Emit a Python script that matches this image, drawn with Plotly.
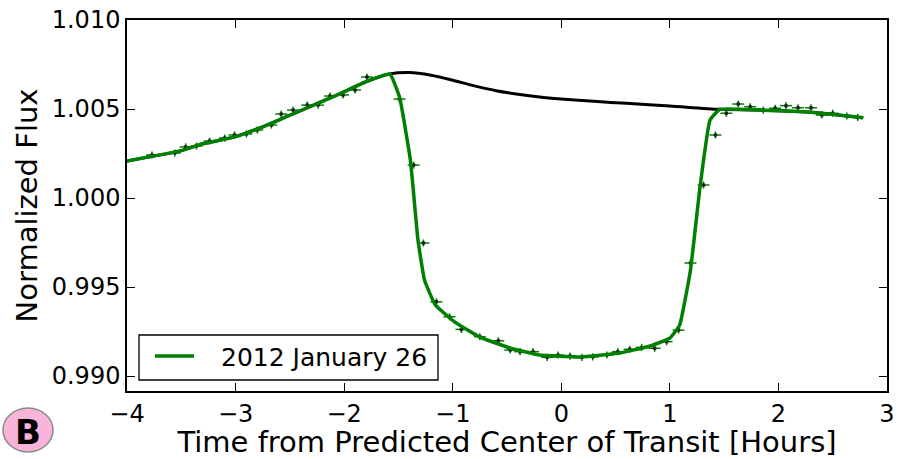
import plotly.graph_objects as go

# Transit model (green) and out-of-transit baseline (black)
model_t = [-4.0, -3.5, -3.33, -3.0, -2.71, -2.5, -2.1, -1.8, -1.58, -1.49, -1.39, -1.32,
           -1.26, -1.16, -0.98, -0.75, -0.47, -0.2, 0.17, 0.54, 0.82, 1.0, 1.09, 1.19,
           1.28, 1.37, 1.46, 1.83, 2.3, 2.78]
model_flux = [1.00208, 1.00266, 1.00300, 1.00345, 1.00410, 1.00465, 1.00569, 1.00653,
              1.00697, 1.00567, 1.00213, 0.99764, 0.99539, 0.99399, 0.99303, 0.99219,
              0.99157, 0.99118, 0.99107, 0.99129, 0.99169, 0.99213, 0.99286, 0.99596,
              1.00073, 1.00438, 1.00498, 1.00494, 1.00482, 1.00451]

base_t = [-4.0, -3.5, -3.33, -3.0, -2.71, -2.5, -2.1, -1.8, -1.58, -1.4, -1.2, -1.0,
          -0.8, -0.6, -0.4, -0.2, 0.0, 0.3, 0.6, 1.0, 1.46, 1.83, 2.3, 2.78]
base_flux = [1.00208, 1.00266, 1.00300, 1.00345, 1.00410, 1.00465, 1.00569, 1.00653,
             1.00697, 1.00705, 1.00690, 1.00662, 1.00630, 1.00603, 1.00583, 1.00567,
             1.00556, 1.00543, 1.00532, 1.00517, 1.00498, 1.00494, 1.00482, 1.00451]

# Binned photometry
obs_t = [-3.77, -3.56, -3.46, -3.36, -3.24, -3.10, -3.01, -2.90, -2.80, -2.67, -2.58,
         -2.47, -2.34, -2.24, -2.13, -2.01, -1.90, -1.79, -1.49, -1.36, -1.27, -1.15,
         -1.03, -0.92, -0.75, -0.58, -0.47, -0.38, -0.26, -0.13, -0.03, 0.08, 0.19,
         0.29, 0.42, 0.52, 0.63, 0.74, 0.86, 0.97, 1.08, 1.19, 1.31, 1.42, 1.52, 1.63,
         1.74, 1.86, 1.97, 2.07, 2.18, 2.30, 2.40, 2.50, 2.63, 2.73]
obs_flux = [1.00242, 1.00253, 1.00287, 1.00292, 1.00320, 1.00337, 1.00354, 1.00360,
            1.00382, 1.00410, 1.00472, 1.00494, 1.00522, 1.00522, 1.00573, 1.00579,
            1.00607, 1.00680, 1.00556, 1.00185, 0.99747, 0.99417, 0.99333, 0.99262,
            0.99221, 0.99198, 0.99146, 0.99137, 0.99137, 0.99105, 0.99118, 0.99112,
            0.99105, 0.99108, 0.99118, 0.99137, 0.99150, 0.99161, 0.99156, 0.99193,
            0.99258, 0.99635, 1.00073, 1.00354, 1.00476, 1.00528, 1.00513, 1.00494,
            1.00504, 1.00519, 1.00507, 1.00507, 1.00466, 1.00476, 1.00461, 1.00453]
bin_half_width = 0.055
flux_err = 0.0002

x_ticks = [-4, -3, -2, -1, 0, 1, 2, 3]
x_tick_text = ["\u22124", "\u22123", "\u22122", "\u22121", "0", "1", "2", "3"]
y_ticks = [0.990, 0.995, 1.000, 1.005, 1.010]
y_tick_text = ["0.990", "0.995", "1.000", "1.005", "1.010"]

series_label = "2012 January 26"

GREEN = "#008000"
FONT = "DejaVu Sans"

fig = go.Figure()

fig.add_trace(go.Scatter(
    x=obs_t, y=obs_flux, mode="markers",
    marker=dict(color="#222222", size=4),
    error_x=dict(type="constant", value=bin_half_width, color=GREEN, thickness=1.5, width=0),
    error_y=dict(type="constant", value=flux_err, color=GREEN, thickness=1.5, width=0),
    showlegend=False, hoverinfo="skip",
))
fig.add_trace(go.Scatter(
    x=base_t, y=base_flux, mode="lines",
    line=dict(color="black", width=3, shape="spline", smoothing=0.8),
    showlegend=False,
))
fig.add_trace(go.Scatter(
    x=model_t, y=model_flux, mode="lines", name=series_label,
    line=dict(color=GREEN, width=3.5, shape="spline", smoothing=0.35),
    showlegend=False,
))

L, R, T, B = 127, 18, 20, 68
W, H = 905, 459
pw, ph = W - L - R, H - T - B

def px(x):
    return (x - L) / pw

def py(y):
    return (H - B - y) / ph

# legend box drawn in paper space
lx0, lx1, ly0, ly1 = 139, 438, 335, 380
fig.add_shape(type="rect", xref="paper", yref="paper",
              x0=px(lx0), x1=px(lx1), y0=py(ly1), y1=py(ly0),
              fillcolor="white", line=dict(color="black", width=1.3), layer="above")
fig.add_shape(type="line", xref="paper", yref="paper",
              x0=px(155), x1=px(194), y0=py(356), y1=py(356),
              line=dict(color=GREEN, width=3.5), layer="above")
fig.add_annotation(x=px(219), y=py(357), xref="paper", yref="paper", text=series_label,
                   showarrow=False, xanchor="left", yanchor="middle",
                   font=dict(family=FONT, size=25, color="black"))

# circled panel letter
cx, cy, rx, ry = 28, 430, 25, 22
fig.add_shape(type="circle", xref="paper", yref="paper",
              x0=px(cx - rx), x1=px(cx + rx), y0=py(cy + ry), y1=py(cy - ry),
              fillcolor="#f8b4d9", line=dict(color="#8a8a8a", width=1.5))
fig.add_annotation(x=px(cx), y=py(cy + 2), xref="paper", yref="paper", text="<b>B</b>",
                   showarrow=False, font=dict(family=FONT, size=34, color="black"),
                   xanchor="center", yanchor="middle")

axis_common = dict(
    showline=True, linecolor="black", linewidth=1.5, mirror="ticks",
    ticks="inside", ticklen=8, tickwidth=1.2, tickcolor="black",
    showgrid=False, zeroline=False, automargin=False,
    tickfont=dict(family=FONT, size=24, color="black"),
)

fig.update_layout(
    width=W, height=H,
    margin=dict(l=L, r=R, t=T, b=B),
    paper_bgcolor="white", plot_bgcolor="white",
    xaxis=dict(range=[-4, 3], tickvals=x_ticks, ticktext=x_tick_text,
               title=dict(text="Time from Predicted Center of Transit [Hours]",
                          font=dict(family=FONT, size=29, color="black"), standoff=2),
               **axis_common),
    yaxis=dict(range=[0.98916, 1.010], tickvals=y_ticks, ticktext=y_tick_text,
               title=dict(text="Normalized Flux",
                          font=dict(family=FONT, size=29, color="black"), standoff=6),
               **axis_common),
    showlegend=False,
)

fig.write_html("out.html")
